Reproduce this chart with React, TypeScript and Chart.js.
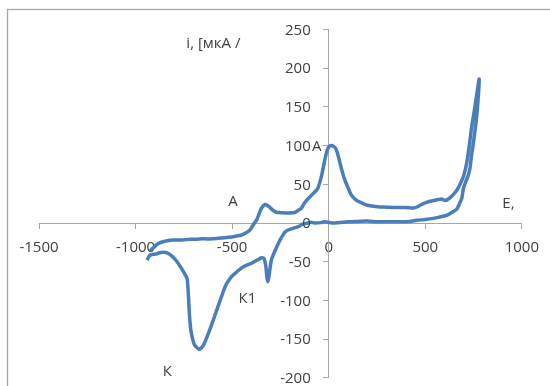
import React, { useEffect, useRef } from "react";
import { Chart, registerables } from "chart.js";

Chart.register(...registerables);

// Anodic sweep: potential E (mV) and current i (µA)
const anodicE = [
  -925, -913, -879, -836, -800, -759, -720, -690, -650, -605, -560, -519, -480, -451, -430, -408,
  -390, -373, -360, -348, -330, -313, -296, -280, -262, -220, -176, -160, -142, -125, -108, -85,
  -65, -56, -40, -31, -20, -9, 0, 12, 25, 37, 50, 63, 80, 98, 115, 140, 170, 200, 252, 300, 355,
  400, 440, 460, 474, 509, 560, 585, 603, 625, 646, 665, 680, 700, 714, 728, 740, 752, 762, 772, 779,
];
const anodicI = [
  -36, -33, -26, -23, -22, -22, -21, -21, -20.5, -20.5, -19.5, -18.5, -17, -15.5, -13, -9,
  -2, 4, 12, 19, 24, 22, 18, 15, 13.5, 13, 13.5, 16, 19, 26, 31, 37,
  42, 45, 58, 68, 82, 93, 98, 100, 99, 96, 86, 73, 58, 47, 37, 30, 26, 23, 21, 20.5, 20,
  20, 19.5, 21, 23, 27, 30, 31, 29, 32, 37, 43, 50, 62, 77, 100, 124, 142, 159, 175, 186,
];

// Cathodic sweep back to the starting potential
const cathodicE = [
  775, 765, 749, 740, 731, 723, 712, 706, 697, 689, 675, 663, 640, 612, 560, 543, 500, 457, 420,
  389, 350, 303, 252, 200, 150, 100, 29, -22, -40, -73, -91, -108, -142, -151, -185, -210, -228,
  -245, -262, -280, -296, -303, -310, -316, -320, -326, -335, -348, -370, -399, -430, -451, -480,
  -502, -520, -536, -555, -579, -600, -622, -647, -670, -690, -699, -710, -716, -722, -725, -730,
  -733, -745, -759, -785, -810, -844, -870, -896, -920, -930, -940,
];
const cathodicI = [
  165, 135, 103, 88, 70, 62, 55, 51, 44, 32, 24, 18, 14, 10, 7, 6, 4.5, 3.5, 2,
  1.7, 1.5, 1.7, 1.7, 2.5, 2, 1.5, 0, 1.5, 0.5, 0, 1, 0, -2, -4, -7, -9, -12,
  -19, -27, -37, -47, -57, -70, -76, -70, -55, -46, -45, -48, -52, -55, -58, -64,
  -69, -75, -82, -95, -112, -127, -142, -157, -163, -159, -155, -144, -134, -115, -99, -80,
  -72, -66, -60, -50, -43, -38, -38, -40, -41, -43, -48,
];

const xTickValues = [-1500, -1000, -500, 0, 500, 1000];
const yTickValues = [-200, -150, -100, -50, 0, 50, 100, 150, 200, 250];

const FONT = "'Open Sans', 'Liberation Sans', sans-serif";
const TEXT = "#404040";
const AXIS = "#a6a6a6";

export default function App() {
  const ref = useRef<HTMLCanvasElement | null>(null);

  useEffect(() => {
    const canvas = ref.current;
    if (!canvas) return;

    const points = [
      ...anodicE.map((e, k) => ({ x: e, y: anodicI[k] })),
      ...cathodicE.map((e, k) => ({ x: e, y: cathodicI[k] })),
    ];

    // Frame around the whole chart
    const frame = {
      id: "frame",
      beforeDraw(chart: any) {
        const c = chart.ctx;
        c.save();
        c.fillStyle = "#ffffff";
        c.fillRect(0, 0, chart.width, chart.height);
        c.strokeStyle = AXIS;
        c.lineWidth = 1.3;
        c.strokeRect(7.5, 9.5, chart.width + 20, chart.height + 20);
        c.restore();
      },
    };

    // Y labels sit to the left of the crossing axis, clear of the tick marks
    const yLabels = {
      id: "yLabels",
      afterDraw(chart: any) {
        const c = chart.ctx;
        const xs = chart.scales.x;
        const ys = chart.scales.y;
        const x0 = xs.getPixelForValue(0);
        c.save();
        c.font = `15px ${FONT}`;
        c.fillStyle = TEXT;
        c.textAlign = "right";
        c.textBaseline = "middle";
        ys.ticks.forEach((t: any) => {
          c.fillText(String(t.value), x0 - 18, ys.getPixelForValue(t.value) + 1);
        });
        c.restore();
      },
    };

    // Axis captions and peak names
    const notes = [
      { text: "i, [мкА /", x: -457, y: 232, align: "right" },
      { text: "E,", x: 899, y: 24.5, align: "left" },
      { text: "А", x: -496, y: 28, align: "center" },
      { text: "А", x: -62, y: 98.6, align: "center" },
      { text: "К1", x: -421, y: -98, align: "center" },
      { text: "К", x: -835, y: -192, align: "center" },
    ];
    const captions = {
      id: "captions",
      afterDraw(chart: any) {
        const c = chart.ctx;
        const xs = chart.scales.x;
        const ys = chart.scales.y;
        c.save();
        c.font = `15px ${FONT}`;
        c.fillStyle = TEXT;
        c.textBaseline = "middle";
        notes.forEach((n) => {
          c.textAlign = n.align as CanvasTextAlign;
          c.fillText(n.text, xs.getPixelForValue(n.x), ys.getPixelForValue(n.y));
        });
        c.restore();
      },
    };

    const chart = new Chart(canvas, {
      type: "scatter",
      data: {
        datasets: [
          {
            data: points,
            showLine: true,
            borderColor: "#4a7ebb",
            borderWidth: 3.5,
            pointRadius: 0,
            tension: 0.25,
            fill: false,
          },
        ],
      },
      options: {
        animation: false,
        responsive: false,
        devicePixelRatio: 1,
        layout: { padding: { left: 39, right: 24, top: 29.5, bottom: 8.2 } },
        plugins: { legend: { display: false }, tooltip: { enabled: false } },
        scales: {
          x: {
            type: "linear",
            position: { y: 0 } as any,
            min: -1500,
            max: 1000,
            afterBuildTicks: (s: any) => {
              s.ticks = xTickValues.map((v) => ({ value: v }));
            },
            grid: { drawOnChartArea: false, drawTicks: true, tickLength: 5, color: AXIS },
            border: { color: AXIS, width: 1 },
            ticks: {
              maxRotation: 0,
              autoSkip: false,
              padding: 11,
              color: TEXT,
              font: { family: FONT, size: 15 },
              callback: (v: any) => String(v),
            },
          },
          y: {
            type: "linear",
            position: { x: 0 } as any,
            min: -200,
            max: 250,
            afterBuildTicks: (s: any) => {
              s.ticks = yTickValues.map((v) => ({ value: v }));
            },
            grid: { drawOnChartArea: false, drawTicks: true, tickLength: 5, color: AXIS },
            border: { color: AXIS, width: 1 },
            ticks: { display: false },
          },
        },
      },
      plugins: [frame, yLabels, captions],
    });

    if ((document as any).fonts?.load) {
      (document as any).fonts.load(`15px 'Open Sans'`).then(() => chart.update());
    }

    return () => chart.destroy();
  }, []);

  return (
    <div style={{ position: "fixed", left: 0, top: 0, width: 550, height: 386, background: "#fff" }}>
      <canvas ref={ref} width={550} height={386} style={{ display: "block" }} />
    </div>
  );
}
